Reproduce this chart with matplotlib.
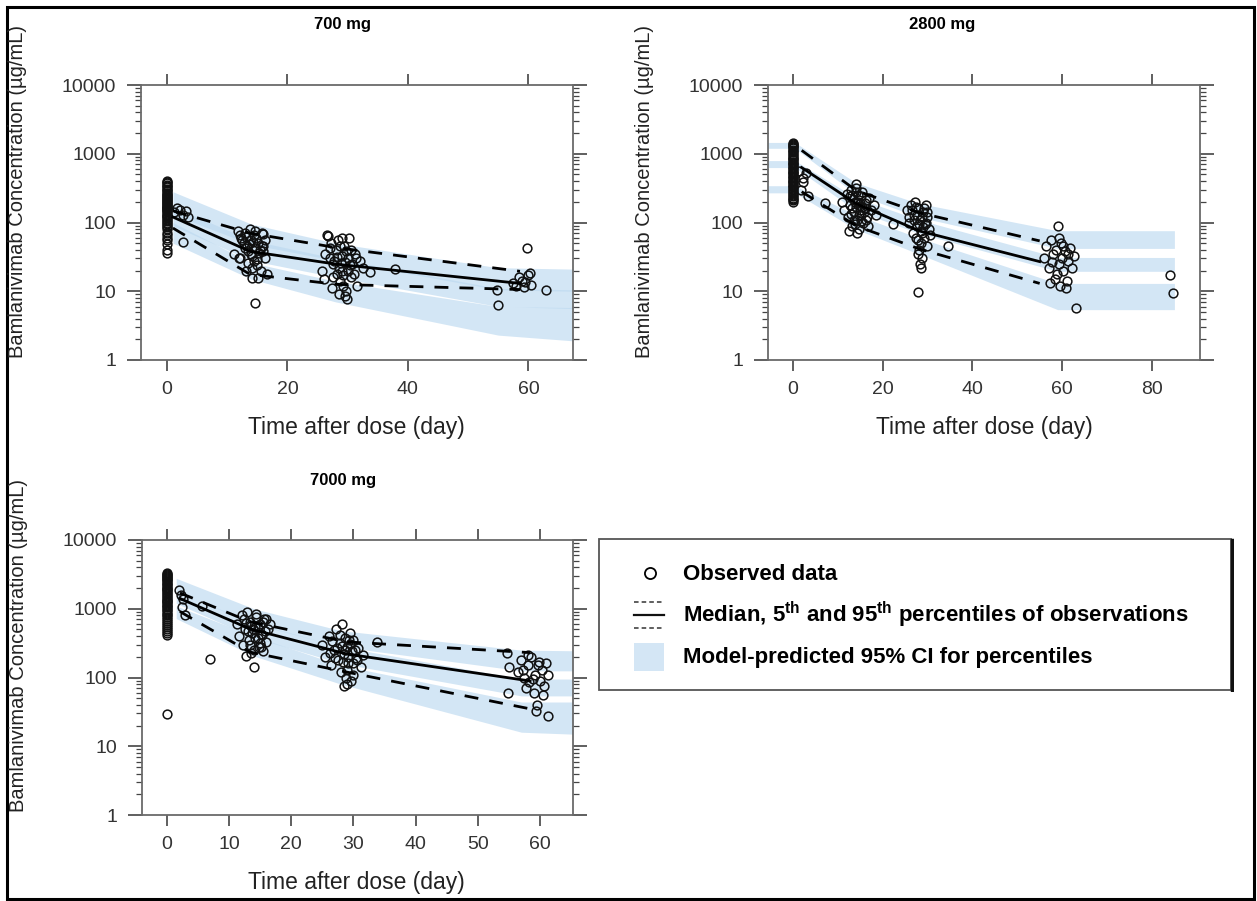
import numpy as np
import matplotlib; matplotlib.use("Agg")
import matplotlib.pyplot as plt
from matplotlib.patches import Rectangle
from matplotlib.ticker import LogLocator, NullFormatter, FixedLocator

plt.rcParams['font.family'] = ['Liberation Sans', 'DejaVu Sans']
plt.rcParams['mathtext.fontset'] = 'custom'
plt.rcParams['mathtext.bf'] = 'Liberation Sans:bold'
plt.rcParams['mathtext.rm'] = 'Liberation Sans'

W, H = 1257, 901
BAND = '#bcd9f0'

# ---------------- 700 mg ----------------
obs700_t = [0]*26 + [0]*23 + [1.2, 1.6, 2.2, 2.6, 3.2, 3.5, 2.7,
    11.2, 11.8, 12.0, 12.1, 12.3, 12.8, 13.0, 13.2, 13.3, 13.5, 13.8, 14.0, 14.1, 14.2, 14.4, 14.5,
    14.6, 14.7, 14.9, 15.1, 15.2, 15.3, 15.6, 15.7, 15.8, 16.0, 16.0, 16.3, 16.6,
    12.5, 13.1, 13.6, 14.3, 14.8, 15.4, 12.9, 13.9, 14.6, 15.0, 13.4, 16.2, 12.2, 15.9, 14.1,
    25.7, 26.0, 26.5, 26.8, 27.0, 27.3, 27.4, 27.6, 28.0, 28.2, 28.4, 28.5, 28.6, 28.8, 29.0, 29.0,
    29.2, 29.4, 29.5, 29.6, 29.8, 29.9, 30.0, 30.2, 30.5, 30.8, 31.2, 31.6, 32.0, 32.5, 33.7, 37.9,
    26.2, 27.1, 27.8, 28.3, 28.7, 29.1, 29.7, 30.1, 30.6, 31.0, 27.5, 28.9, 29.3, 30.4, 31.4,
    54.8, 55.0, 57.5, 58.0, 58.5, 59.0, 59.2, 59.5, 59.8, 60.0, 60.3, 60.5, 63.0]
obs700_c = [400, 370, 340, 310, 290, 270, 250, 235, 220, 205, 190, 180, 170, 160, 150, 140, 130,
    120, 110, 100, 90, 80, 65, 55, 40, 36,
    385, 355, 325, 300, 260, 245, 228, 212, 198, 185, 175, 165, 155, 145, 135, 125, 115, 105,
    95, 85, 70, 60, 48,
    140, 160, 150, 130, 145, 120, 52,
    35, 75, 30, 30, 60, 50, 70, 20, 45, 38, 80, 55, 15.4, 33, 28, 65,
    6.8, 42, 24, 50, 15.4, 36, 20, 45, 70, 45, 68, 30, 18,
    55, 62, 48, 52, 60, 40, 42, 35, 74, 29, 26, 55, 66, 38, 22,
    20, 15, 65, 63, 30, 50, 11, 25, 40, 18, 55, 9, 22, 14, 33, 60,
    12, 45, 8.5, 27, 10, 7.8, 20, 60, 16, 25, 35, 12, 28, 22, 19, 21,
    35, 42, 28, 32, 45, 20, 38, 30, 40, 18, 16, 26, 17, 24, 30,
    10.3, 6.4, 13, 12, 16, 14, 11.5, 13.5, 42, 17, 18.5, 12.5, 10.6]
stat700_t = [1.0, 13.8, 28.2, 58.6]
med700 = [120, 38, 24.7, 13]
p95_700 = [148, 70, 43, 19.5]
p05_700 = [83, 17.6, 12.6, 10.6]
band700_t = [1.0, 14, 28, 55, 67.4]
ci95_700 = ([130, 48, 28, 10.5, 10], [280, 95, 50, 22, 21])
ci50_700 = ([90, 28, 16, 6.0, 5.6], [170, 55, 30, 11, 10.5])
ci05_700 = ([50, 15, 7, 2.3, 1.9], [100, 26, 14, 6.0, 5.8])

# ---------------- 2800 mg ----------------
obs2800_t = [0]*24 + [0]*22 + [1.5, 2.2, 2.4, 3.0, 3.3, 1.8, 7.1,
    11.0, 11.5, 12.0, 12.3, 12.5, 12.7, 13.0, 13.2, 13.5, 13.7, 13.8, 14.0, 14.2, 14.3, 14.4, 14.6,
    14.8, 14.9, 15.0, 15.2, 15.5, 15.7, 16.0, 16.3, 16.6, 16.8, 17.0, 17.5, 18.0, 18.6, 22.3,
    12.8, 13.3, 13.6, 14.1, 14.5, 14.7, 15.1, 15.4, 15.8, 16.1, 13.9, 12.9, 15.3, 14.2, 13.1,
    16.4, 14.9,
    25.4, 25.8, 26.3, 26.7, 27.0, 27.3, 27.6, 27.9, 28.0, 28.2, 28.3, 28.4, 28.5, 28.6, 28.8, 29.0,
    29.2, 29.4, 29.6, 29.8, 30.0, 30.3, 30.5, 27.9, 34.6,
    26.0, 26.5, 27.1, 27.5, 27.7, 28.1, 28.7, 29.1, 29.3, 29.7, 28.9, 27.4, 29.9, 28.5, 28.0,
    56.0, 56.5, 57.0, 57.3, 57.5, 58.0, 58.3, 58.6, 59.0, 59.2, 59.5, 59.8, 60.0, 60.3, 60.6, 60.8,
    61.0, 61.4, 61.8, 62.2, 62.6, 63.0, 57.7, 58.8, 60.1, 61.2, 59.4, 84.0, 84.7]
obs2800_c = [1450, 1350, 1250, 1150, 1050, 950, 880, 800, 740, 680, 620, 570, 520, 480, 440, 400,
    370, 340, 310, 280, 250, 230, 210, 200,
    1400, 1300, 1200, 1100, 1000, 900, 840, 770, 710, 650, 600, 545, 500, 460, 420, 385, 355,
    325, 295, 265, 240, 220,
    560, 450, 390, 520, 240, 300, 190,
    200, 150, 260, 120, 75, 180, 300, 90, 220, 140, 200, 360, 170, 70, 110, 250,
    80, 150, 190, 130, 280, 100, 160, 210, 120, 90, 230, 150, 180, 130, 95,
    240, 160, 110, 280, 200, 130, 240, 170, 140, 190, 95, 135, 105, 320, 250, 110, 175,
    150, 100, 180, 70, 130, 200, 90, 55, 160, 40, 25, 110, 22, 75, 30, 140,
    60, 95, 180, 45, 120, 80, 65, 9.8, 45,
    120, 150, 110, 170, 130, 95, 120, 85, 160, 100, 70, 60, 140, 50, 35,
    30, 45, 22, 13, 55, 35, 15, 40, 90, 25, 12, 50, 30, 20, 38, 11,
    14, 28, 42, 22, 33, 5.8, 27, 18, 45, 35, 60, 17, 9.3]
stat2800_t = [2.0, 14.2, 28.3, 55.0]
med2800 = [630, 187, 75, 27]
p95_2800 = [1120, 290, 138, 54]
p05_2800 = [280, 89, 41, 13]
band2800_t = [-6, 0.5, 14, 28, 59, 85]
ci95_2800 = ([1200, 1200, 260, 120, 42, 42], [1460, 1460, 380, 190, 76, 76])
ci50_2800 = ([630, 630, 150, 70, 19.5, 19.5], [795, 795, 230, 110, 31, 31])
ci05_2800 = ([270, 270, 80, 35, 5.4, 5.4], [343, 343, 130, 60, 13, 13])

# ---------------- 7000 mg ----------------
obs7000_t = [0]*23 + [0]*22 + [2.0, 2.3, 2.6, 2.4, 2.9, 5.6, 6.9,
    11.2, 11.6, 12.0, 12.3, 12.6, 12.8, 12.9, 13.2, 13.4, 13.5, 13.7, 14.0, 14.0, 14.2, 14.4, 14.6,
    14.8, 15.0, 15.3, 15.5, 15.6, 15.9, 16.2, 16.6,
    12.4, 13.0, 13.6, 14.1, 14.3, 14.7, 15.1, 15.4, 15.8, 13.3, 14.9, 16.0, 12.7, 13.8, 15.2,
    25.0, 25.5, 26.0, 26.4, 26.8, 27.2, 27.5, 27.8, 28.0, 28.2, 28.4, 28.5, 28.6, 28.8, 29.0, 29.0,
    29.2, 29.4, 29.6, 29.8, 30.0, 30.4, 30.8, 31.2, 31.5, 33.8,
    26.2, 26.6, 27.0, 27.4, 27.9, 28.3, 28.7, 29.1, 29.5, 29.9, 30.2, 30.6, 28.1, 28.9, 30.0, 29.3,
    54.7, 54.8, 55.0, 56.5, 57.0, 57.5, 57.8, 58.0, 58.3, 58.6, 59.0, 59.2, 59.3, 59.5, 59.8, 60.0,
    60.3, 60.6, 61.0, 61.3, 57.3, 58.8, 59.6, 60.4, 58.1, 61.2]
obs7000_c = [3300, 3000, 2800, 2600, 2400, 2200, 2000, 1850, 1700, 1550, 1400, 1300, 1200, 1100,
    1000, 900, 800, 700, 620, 550, 480, 420, 29,
    3200, 3100, 2900, 2700, 2500, 2300, 2100, 1950, 1800, 1650, 1500, 1350, 1250, 1150, 1050,
    950, 850, 750, 660, 580, 510, 450,
    1900, 1600, 1400, 1070, 800, 1100, 185,
    600, 400, 800, 300, 500, 205, 900, 350, 650, 230, 450, 250, 142, 550, 750, 380,
    280, 600, 420, 240, 700, 330, 500, 600,
    700, 480, 560, 380, 850, 520, 430, 650, 470, 300, 320, 720, 620, 500, 280,
    300, 200, 400, 150, 250, 500, 180, 320, 120, 600, 220, 75, 380, 100, 280, 80,
    160, 450, 90, 240, 350, 190, 270, 140, 210, 330,
    230, 340, 190, 270, 410, 170, 250, 200, 310, 160, 250, 180, 290, 130, 110, 350,
    230, 60, 140, 120, 180, 100, 70, 150, 85, 200, 60, 110, 33, 40, 170, 90,
    130, 75, 160, 28, 130, 95, 150, 55, 210, 110]
stat7000_t = [2.1, 13.3, 28.9, 58.4]
med7000 = [1410, 512, 220, 89]
p95_7000 = [1700, 650, 330, 230]
p05_7000 = [910, 235, 120, 35]
band7000_t = [1.5, 14, 28, 57, 65.3]
ci95_7000 = ([1800, 600, 280, 125, 125], [2770, 1000, 480, 250, 245])
ci50_7000 = ([1200, 380, 160, 54, 54], [1800, 620, 280, 95, 95])
ci05_7000 = ([720, 205, 80, 16, 15], [1100, 400, 150, 44, 44])

panels = [
    ("700 mg", (141, 85, 573, 360), (-4.3, 67.4), [0, 20, 40, 60],
     obs700_t, obs700_c, stat700_t, med700, p95_700, p05_700,
     band700_t, [ci95_700, ci50_700, ci05_700]),
    ("2800 mg", (768, 85, 1200, 360), (-5.5, 90.7), [0, 20, 40, 60, 80],
     obs2800_t, obs2800_c, stat2800_t, med2800, p95_2800, p05_2800,
     band2800_t, [ci95_2800, ci50_2800, ci05_2800]),
    ("7000 mg", (142, 540, 573, 815), (-4.0, 65.3), [0, 10, 20, 30, 40, 50, 60],
     obs7000_t, obs7000_c, stat7000_t, med7000, p95_7000, p05_7000,
     band7000_t, [ci95_7000, ci50_7000, ci05_7000]),
]

fig = plt.figure(figsize=(W/100, H/100), dpi=100)

def px_axes(l, t, r, b):
    return fig.add_axes([l/W, 1 - b/H, (r - l)/W, (b - t)/H])

for title, box, xlim, xt, ot, oc, st, med, p95, p05, bt, bands in panels:
    ax = px_axes(*box)
    for lo, hi in bands:
        ax.fill_between(bt, lo, hi, color=BAND, alpha=0.65, lw=0, zorder=1)
    ax.plot(ot, oc, 'o', mfc='none', mec='#111111', ms=6.3, mew=1.1, zorder=3)
    ax.plot(st, med, '-', color='black', lw=2.0, zorder=4)
    for p in (p95, p05):
        ax.plot(st, p, '--', color='black', lw=2.0, dashes=(5, 4), zorder=4)
    ax.set_yscale('log')
    ax.set_ylim(1, 10000)
    ax.set_xlim(*xlim)
    ax.xaxis.set_major_locator(FixedLocator(xt))
    ax.yaxis.set_major_locator(FixedLocator([1, 10, 100, 1000, 10000]))
    ax.set_yticklabels(['1', '10', '100', '1000', '10000'])
    ax.yaxis.set_minor_locator(LogLocator(base=10, subs=np.arange(2, 10)))
    ax.yaxis.set_minor_formatter(NullFormatter())
    for s in ax.spines.values():
        s.set_color('#6a6a6a'); s.set_linewidth(1.3)
    ax.tick_params(which='both', direction='out', top=True, right=True,
                   labeltop=False, labelright=False, color='#444444', width=1.2,
                   labelsize=14, labelcolor='#333333')
    ax.tick_params(axis='x', which='major', length=8, pad=7)
    ax.tick_params(axis='y', which='major', length=10, pad=8)
    ax.tick_params(axis='y', which='minor', length=4.5, width=0.9)
    l, t, r, b = box
    fig.text(((l + r)/2 - 14)/W if title != "2800 mg" else ((l + r)/2 - 42)/W,
             1 - (t - 60)/H, title, ha='center', va='center',
             fontsize=12, fontweight='bold')
    fig.text(((l + r)/2 - 1)/W if title != "2800 mg" else 984/W,
             1 - (b + 68)/H, "Time after dose (day)", ha='center', va='center',
             fontsize=16.5, color='#222222')
    fig.text((l - 123)/W, 1 - (t + 106)/H, "Bamlanivimab Concentration (µg/mL)",
             rotation=90, ha='center', va='center', fontsize=14.5, color='#222222')

# legend
lax = px_axes(598, 538, 1234, 692)
lax.set_xlim(598, 1234); lax.set_ylim(692, 538); lax.axis('off')
lax.add_patch(Rectangle((599, 539), 632, 151, fill=False, ec='#555555', lw=1.3))
lax.plot([1232, 1232], [540, 691], color='#111111', lw=2.5)
lax.plot([650], [573], 'o', mfc='none', mec='black', ms=8, mew=1.3)
lax.plot([634, 664], [602, 602], color='#333333', lw=1.1, dashes=(3, 2))
lax.plot([634, 664], [615, 615], color='#111111', lw=1.6)
lax.plot([634, 664], [628, 628], color='#333333', lw=1.1, dashes=(3, 2))
lax.add_patch(Rectangle((634, 643), 30, 28, color='#d4e6f5', lw=0))
lax.text(683, 574, "Observed data", fontsize=16, fontweight='bold', va='center')
lax.text(683, 615, r"Median, 5$^{\mathbf{th}}$ and 95$^{\mathbf{th}}$ percentiles of observations",
         fontsize=16, fontweight='bold', va='center')
lax.text(683, 657, "Model-predicted 95% CI for percentiles", fontsize=16,
         fontweight='bold', va='center')

# outer frame
fig.patches.append(Rectangle((7/W, 2/H), (1254 - 7)/W, (899 - 7)/H, fill=False,
                             ec='black', lw=2.2, transform=fig.transFigure))

fig.savefig("out.png", dpi=100)
